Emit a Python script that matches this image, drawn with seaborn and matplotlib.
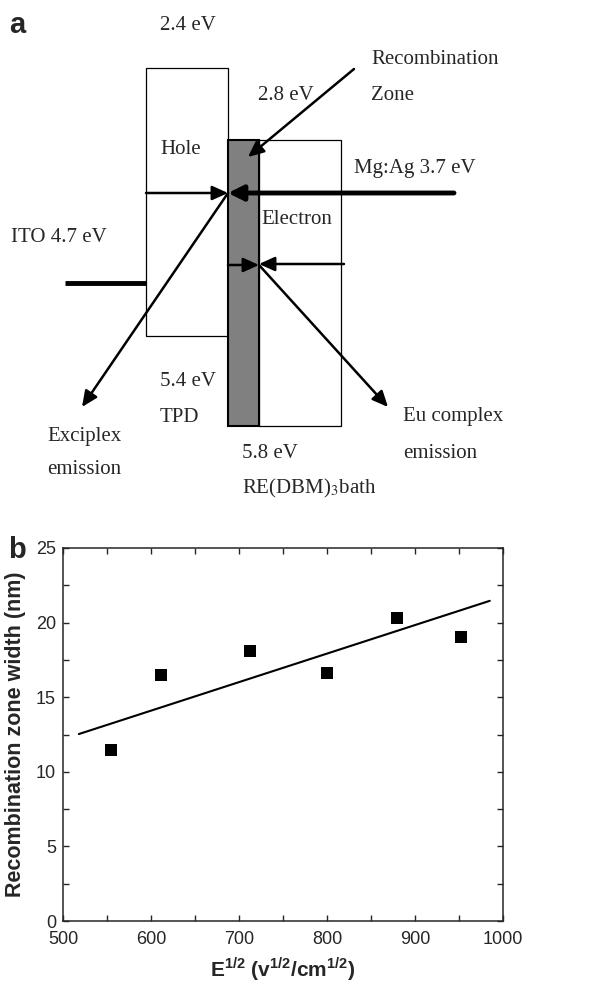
import numpy as np
import matplotlib
matplotlib.use('Agg')
import matplotlib.pyplot as plt
import seaborn as sns
from matplotlib.patches import Rectangle
from matplotlib.ticker import MultipleLocator

# ---- panel b data ----
field = [555, 611.5, 712.4, 800.5, 879.4, 952.2]          # E^1/2
zone_width = [11.43, 16.48, 18.09, 16.59, 20.29, 19.06]   # nm
fit_x = [518, 985]
fit_y = [12.53, 21.46]
x_ticks = [500, 600, 700, 800, 900, 1000]
y_ticks = [0, 5, 10, 15, 20, 25]

# ---- panel a: schematic energy diagram (drawing units = pixels, y down) ----
tpd_box = (146, 68, 82, 268)
zone_box = (228, 140, 31, 286)
etl_box = (259, 140, 82, 286)
electrode_lines = [((65, 283), (146, 283)), ((454, 193), (228, 193))]
thin_arrows = [((146, 193), (228, 193)), ((228, 193), (82, 407)),
               ((228, 265), (259, 265)), ((344, 264), (259, 264)),
               ((259, 265), (388, 407)), ((354, 69), (248, 157))]
labels_a = [("2.4 eV", 160, 25), ("Recombination", 371, 60), ("Zone", 371, 95),
            ("2.8 eV", 258, 95), ("Hole", 160, 150), ("Mg:Ag 3.7 eV", 354, 168),
            ("Electron", 261, 220), ("ITO 4.7 eV", 11, 238),
            ("5.4 eV", 160, 382), ("TPD", 160, 417),
            ("Exciplex", 47, 436), ("emission", 47, 470),
            ("5.8 eV", 242, 453), ("RE(DBM)$_3$bath", 242, 488),
            ("Eu complex", 403, 417), ("emission", 403, 453)]

sns.set_style('ticks')
plt.rcParams['font.family'] = ['Liberation Sans', 'DejaVu Sans']
plt.rcParams['mathtext.fontset'] = 'custom'
plt.rcParams['mathtext.rm'] = 'Liberation Sans'
plt.rcParams['mathtext.bf'] = 'Liberation Sans:bold'

fig = plt.figure(figsize=(6.1, 9.93), dpi=100)

ax_a = fig.add_axes([0, 0, 1, 1])
ax_a.set_xlim(0, 610)
ax_a.set_ylim(993, 0)
ax_a.axis('off')

for (x, y, w, h) in [tpd_box, etl_box]:
    ax_a.add_patch(Rectangle((x, y), w, h, facecolor='white', edgecolor='black', lw=0.9))
x, y, w, h = zone_box
ax_a.add_patch(Rectangle((x, y), w, h, facecolor='#808080', edgecolor='black', lw=1.5, zorder=3))

a, b = electrode_lines[0]
ax_a.plot([a[0], b[0]], [a[1], b[1]], color='black', lw=3.5, solid_capstyle='butt')
a, b = electrode_lines[1]
ax_a.annotate('', xy=b, xytext=a,
              arrowprops=dict(arrowstyle='-|>,head_length=0.9,head_width=0.45',
                              mutation_scale=10, color='black', lw=3.5,
                              shrinkA=0, shrinkB=0), zorder=5)
for a, b in thin_arrows:
    ax_a.annotate('', xy=b, xytext=a,
                  arrowprops=dict(arrowstyle='-|>,head_length=0.95,head_width=0.43',
                                  mutation_scale=10, color='black', lw=1.8,
                                  shrinkA=0, shrinkB=0), zorder=5)

for txt, x, y in labels_a:
    ax_a.text(x, y, txt, family=['Liberation Serif'], fontsize=15, ha='left', va='center',
              math_fontfamily='stix')

fig.text(17 / 610, 1 - 25 / 993, 'a', fontsize=21, fontweight='bold', ha='center', va='center')
fig.text(17 / 610, 1 - 550 / 993, 'b', fontsize=21, fontweight='bold', ha='center', va='center')

# ---- panel b ----
ax_b = fig.add_axes([63 / 610, (993 - 921) / 993, (503 - 63) / 610, (921 - 548) / 993])
sns.lineplot(x=fit_x, y=fit_y, color='black', lw=1.5, ax=ax_b)
sns.scatterplot(x=field, y=zone_width, marker='s', s=85, color='black',
                edgecolor='black', linewidth=0, ax=ax_b, zorder=4)
ax_b.set_xlim(500, 1000)
ax_b.set_ylim(0, 25)
ax_b.set_xticks(x_ticks)
ax_b.set_yticks(y_ticks)
ax_b.xaxis.set_minor_locator(MultipleLocator(50))
ax_b.yaxis.set_minor_locator(MultipleLocator(2.5))
ax_b.tick_params(which='both', direction='in', top=True, right=True, width=1, labelsize=13)
ax_b.tick_params(which='major', length=4)
ax_b.tick_params(which='minor', length=4)
ax_b.tick_params(axis='x', which='major', pad=7)
ax_b.tick_params(axis='y', which='major', pad=5)
for sp in ax_b.spines.values():
    sp.set_linewidth(1.1)
ax_b.set_ylabel('Recombination zone width (nm)', fontsize=15.5, fontweight='bold', labelpad=7)
ax_b.set_xlabel(r'E$^{\mathbf{1/2}}$ (v$^{\mathbf{1/2}}$/cm$^{\mathbf{1/2}}$)',
                fontsize=15, fontweight='bold', labelpad=5)

fig.savefig('out.png', dpi=100)
